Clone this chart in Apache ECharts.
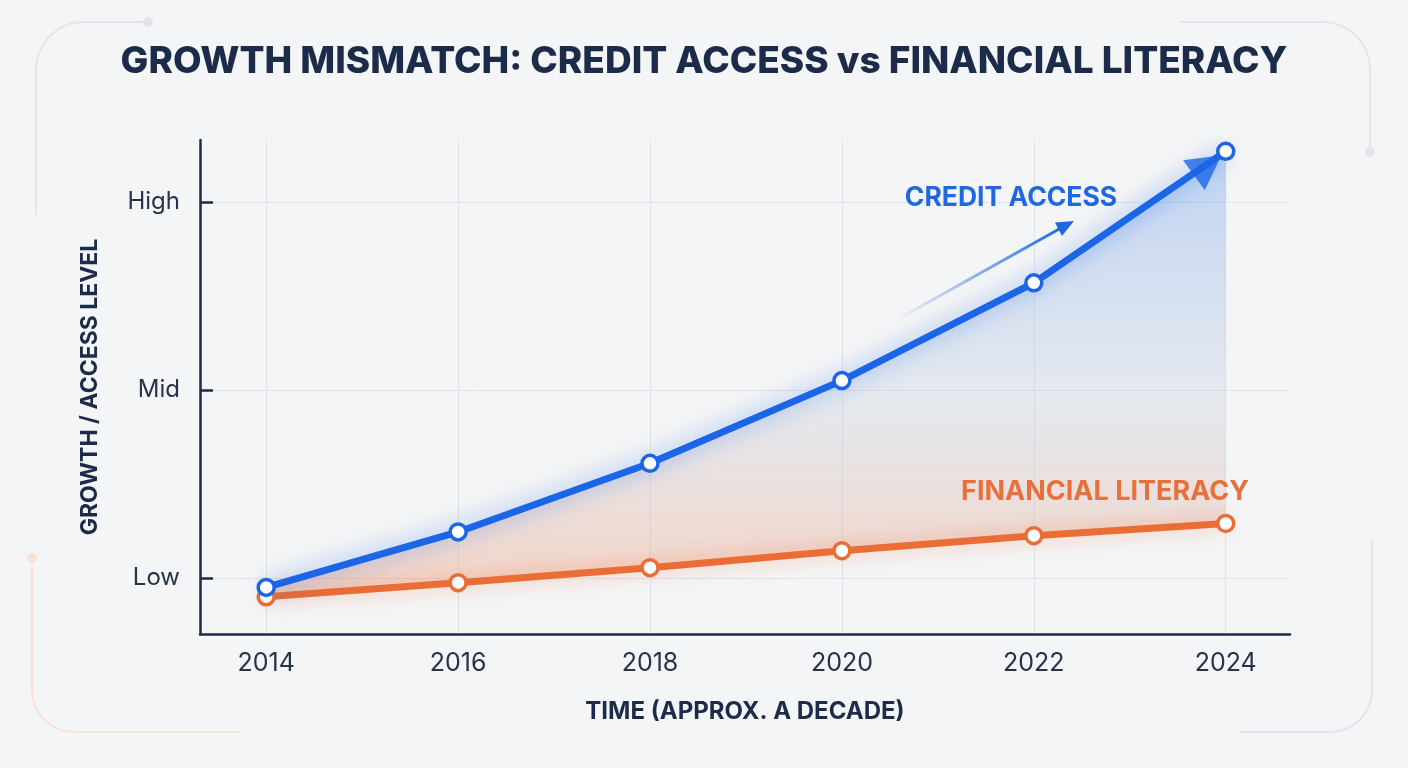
<!DOCTYPE html>
<html>
<head>
<meta charset="utf-8">
<script src="https://cdn.jsdelivr.net/npm/echarts@6/dist/echarts.min.js"></script>
<style>
  html, body { margin: 0; padding: 0; background: #f4f5f6; }
  #main { width: 1408px; height: 768px; }
</style>
</head>
<body>
<div id="main"></div>
<script>
// years on the x axis
var years = [2014, 2016, 2018, 2020, 2022, 2024];
// Low = 10, Mid = 20, High = 30
var creditAccess = [9.5, 12.45, 16.1, 20.5, 25.7, 32.7];
var financialLiteracy = [9.0, 9.75, 10.55, 11.45, 12.25, 12.9];
var levelTicks = [10, 20, 30];
var levelNames = { 10: 'Low', 20: 'Mid', 30: 'High' };

var blue = '#1b66e6';
var orange = '#ea6d36';
var navy = '#1c2b49';
var deco = '#e2e6ec';
var decoOrange = '#f8e2d6';

var creditPts = years.map(function (y, i) { return [y, creditAccess[i]]; });
var literacyPts = years.map(function (y, i) { return [y, financialLiteracy[i]]; });

// fills the gap between the two lines
function renderGap(params, api) {
    var pts = [];
    for (var i = 0; i < years.length; i++) {
        pts.push(api.coord([years[i], creditAccess[i]]));
    }
    for (var j = years.length - 1; j >= 0; j--) {
        pts.push(api.coord([years[j], financialLiteracy[j]]));
    }
    return {
        type: 'polygon',
        shape: { points: pts },
        style: {
            fill: new echarts.graphic.LinearGradient(0, 0, 0, 1, [
                { offset: 0, color: 'rgba(60,130,240,0.30)' },
                { offset: 0.55, color: 'rgba(178,190,215,0.22)' },
                { offset: 1, color: 'rgba(245,140,90,0.32)' }
            ])
        }
    };
}

var mychart = echarts.init(document.getElementById('main'));

var option = {
    backgroundColor: 'transparent',
    animation: false,
    title: {
        text: 'GROWTH MISMATCH: CREDIT ACCESS vs FINANCIAL LITERACY',
        left: 'center',
        top: 38,
        textStyle: {
            fontFamily: 'Inter',
            fontWeight: 800,
            fontSize: 37,
            color: navy
        }
    },
    grid: {
        left: 200,
        right: 118,
        top: 140,
        bottom: 134
    },
    xAxis: {
        type: 'value',
        min: 2013.31,
        max: 2024.67,
        name: 'TIME (APPROX. A DECADE)',
        nameLocation: 'middle',
        nameGap: 66,
        nameTextStyle: { fontFamily: 'Inter', fontWeight: 700, fontSize: 24, color: navy },
        axisLine: { show: true, lineStyle: { color: navy, width: 2.5 } },
        axisTick: { show: false, customValues: years },
        axisLabel: {
            customValues: years,
            margin: 17,
            fontFamily: 'Inter',
            fontSize: 25,
            color: '#27324b',
            formatter: function (v) { return String(v); }
        },
        splitLine: { show: true, lineStyle: { color: '#dfe3ea', width: 1 } }
    },
    yAxis: {
        type: 'value',
        min: 7.02,
        max: 33.3,
        name: 'GROWTH / ACCESS LEVEL',
        nameLocation: 'middle',
        nameGap: 98,
        nameRotate: 90,
        nameTextStyle: { fontFamily: 'Inter', fontWeight: 700, fontSize: 23, color: navy },
        axisLine: { show: true, lineStyle: { color: navy, width: 2.5 } },
        axisTick: { show: true, inside: true, length: 13, customValues: levelTicks, lineStyle: { color: navy, width: 2.5 } },
        axisLabel: {
            customValues: levelTicks,
            margin: 20,
            fontFamily: 'Inter',
            fontSize: 24,
            color: '#27324b',
            formatter: function (v) { return levelNames[v] || ''; }
        },
        splitLine: { show: true, lineStyle: { color: '#dfe3ea', width: 1 } }
    },
    series: [
        {
            name: 'gap',
            type: 'custom',
            data: [[years[0], creditAccess[0]]],
            renderItem: renderGap,
            z: 1,
            silent: true
        },
        {
            name: 'Financial Literacy',
            type: 'line',
            data: literacyPts,
            z: 3,
            symbol: 'circle',
            symbolSize: 16,
            lineStyle: { color: orange, width: 7, shadowBlur: 20, shadowColor: 'rgba(234,109,54,0.45)' },
            itemStyle: { color: '#fff', borderColor: orange, borderWidth: 3.5 }
        },
        {
            name: 'Credit Access',
            type: 'line',
            data: creditPts,
            z: 4,
            symbol: 'circle',
            symbolSize: 16,
            lineStyle: { color: blue, width: 7, shadowBlur: 22, shadowColor: 'rgba(27,102,230,0.55)' },
            itemStyle: { color: '#fff', borderColor: blue, borderWidth: 3.5 }
        },
        {
            // arrow head at the end of the credit line
            name: 'arrow',
            type: 'scatter',
            data: [creditPts[creditPts.length - 1]],
            z: 3,
            symbol: 'triangle',
            symbolSize: [37, 34],
            symbolRotate: -54,
            symbolOffset: [-18, 14],
            itemStyle: { color: blue },
            silent: true
        }
    ],
    graphic: [
        // corner decorations
        { type: 'polyline', shape: { points: [[36, 215], [36, 70]] }, style: { stroke: deco, lineWidth: 2 } },
        { type: 'arc', shape: { cx: 84, cy: 70, r: 48, startAngle: Math.PI, endAngle: Math.PI * 1.5, clockwise: true }, style: { stroke: deco, lineWidth: 2, fill: null } },
        { type: 'polyline', shape: { points: [[84, 22], [148, 22]] }, style: { stroke: deco, lineWidth: 2 } },
        { type: 'circle', shape: { cx: 148, cy: 22, r: 5 }, style: { fill: deco } },

        { type: 'polyline', shape: { points: [[1180, 22], [1322, 22]] }, style: { stroke: deco, lineWidth: 2 } },
        { type: 'arc', shape: { cx: 1322, cy: 70, r: 48, startAngle: Math.PI * 1.5, endAngle: Math.PI * 2, clockwise: true }, style: { stroke: deco, lineWidth: 2, fill: null } },
        { type: 'polyline', shape: { points: [[1370, 70], [1370, 152]] }, style: { stroke: deco, lineWidth: 2 } },
        { type: 'circle', shape: { cx: 1370, cy: 152, r: 5 }, style: { fill: deco } },

        { type: 'polyline', shape: { points: [[32, 558], [32, 690]] }, style: { stroke: decoOrange, lineWidth: 2 } },
        { type: 'arc', shape: { cx: 74, cy: 690, r: 42, startAngle: Math.PI * 0.5, endAngle: Math.PI, clockwise: true }, style: { stroke: decoOrange, lineWidth: 2, fill: null } },
        { type: 'polyline', shape: { points: [[74, 732], [240, 732]] }, style: { stroke: decoOrange, lineWidth: 2 } },
        { type: 'circle', shape: { cx: 32, cy: 558, r: 5 }, style: { fill: decoOrange } },

        { type: 'polyline', shape: { points: [[1372, 540], [1372, 690]] }, style: { stroke: deco, lineWidth: 2 } },
        { type: 'arc', shape: { cx: 1330, cy: 690, r: 42, startAngle: 0, endAngle: Math.PI * 0.5, clockwise: true }, style: { stroke: deco, lineWidth: 2, fill: null } },
        { type: 'polyline', shape: { points: [[1330, 732], [1240, 732]] }, style: { stroke: deco, lineWidth: 2 } },

        // series labels
        {
            type: 'text', x: 1011, y: 198, z: 10,
            style: { text: 'CREDIT ACCESS', fill: '#1f68e0', font: '700 26.5px Inter', textAlign: 'center', textVerticalAlign: 'middle' }
        },
        {
            type: 'text', x: 1105, y: 492, z: 10,
            style: { text: 'FINANCIAL LITERACY', fill: '#e8703a', font: '700 27px Inter', textAlign: 'center', textVerticalAlign: 'middle' }
        },
        // small trend arrow under the label
        {
            type: 'line', z: 10,
            shape: { x1: 900, y1: 318, x2: 1061, y2: 228 },
            style: {
                lineWidth: 3,
                stroke: new echarts.graphic.LinearGradient(0, 0, 1, 0, [
                    { offset: 0, color: 'rgba(31,104,224,0)' },
                    { offset: 1, color: 'rgba(31,104,224,1)' }
                ])
            }
        },
        {
            type: 'polygon', z: 10,
            shape: { points: [[1074, 221], [1055, 222.5], [1062, 236]] },
            style: { fill: '#1f68e0' }
        }
    ]
};
mychart.setOption(option);
</script>
</body>
</html>
